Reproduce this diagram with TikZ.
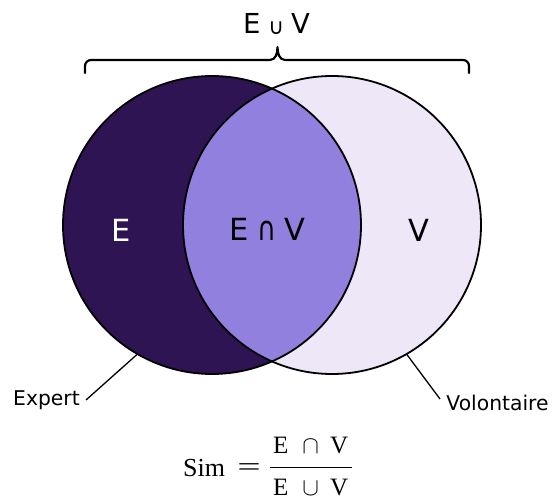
\documentclass[tikz,border=0pt]{standalone}
\usepackage{fontspec}
\usepackage{graphicx}
\newfontfamily\dvsans{DejaVu Sans}
\newfontfamily\libserif{Liberation Serif}
\definecolor{darkpurple}{RGB}{47,20,84}
\definecolor{midpurple}{RGB}{146,128,222}
\definecolor{lightpurple}{RGB}{237,231,248}
\newcommand{\mycap}{\scalebox{0.85}[1.1]{∩}}
\newcommand{\mycup}{\raisebox{-1.5pt}{\scalebox{0.78}[0.8]{∪}}}
\tikzset{
  setline/.style={line width=1.8pt, draw=black},
  bigtext/.style={font=\dvsans\fontsize{30.5pt}{32pt}\selectfont, inner sep=0pt, anchor=base},
  toptext/.style={font=\dvsans\fontsize{27.5pt}{30pt}\selectfont, inner sep=0pt, anchor=base},
  smalltext/.style={font=\dvsans\fontsize{20.3pt}{22pt}\selectfont, inner sep=0pt, anchor=base},
  formtext/.style={font=\libserif\fontsize{26pt}{28pt}\selectfont, inner sep=0pt, anchor=base west},
  fractext/.style={font=\libserif\fontsize{25pt}{27pt}\selectfont, inner sep=0pt, anchor=base west},
  leader/.style={line width=1.3pt, draw=black},
  bracestyle/.style={line width=2.2pt, draw=black, line cap=round, line join=round},
  setnode/.style={circle, minimum size=298pt, inner sep=0pt, outer sep=0pt}
}
\begin{document}
\begin{tikzpicture}[x=1pt,y=1pt]
\useasboundingbox (0,0) rectangle (553,501);
% set circles (named)
\node[setnode] (L) at (212,276) {};
\node[setnode] (R) at (332,276) {};
\fill[darkpurple] (L.center) circle (149);
\fill[lightpurple] (R.center) circle (149);
\begin{scope}
  \clip (L.center) circle (149);
  \fill[midpurple] (R.center) circle (149);
\end{scope}
\draw[setline] (L.center) circle (149);
\draw[setline] (R.center) circle (149);
% labels inside
\node[bigtext, text=white] (Elab) at (121.5,260) {E};
\node[bigtext] (EVlab) at (267.5,261) {E\hspace{8pt}\mycap\hspace{8pt}V};
\node[bigtext] (Vlab) at (419,260) {V};
% brace and union label
\coordinate (bl) at (85,428);
\coordinate (br) at (469,428);
\coordinate (tip) at (277.5,454);
\draw[bracestyle] (bl) -- (85,435) to[out=90,in=180] (91,441) -- (270,441)
   to[out=0,in=-90] (tip) to[out=-90,in=180] (285,441) -- (463,441)
   to[out=0,in=90] (469,435) -- (br);
\node[toptext] (union) at (276.5,467.5) {E\hspace{8pt}\mycup\hspace{7pt}V};
% outside labels with leaders
\node[smalltext] (expert) at (46.5,96) {Expert};
\node[smalltext] (vol) at (497.5,91) {Volontaire};
\coordinate (expend) at (86,101);
\coordinate (volend) at (440,102);
\draw[leader] (expend) -- (L.240);
\draw[leader] (volend) -- (R.300);
% formula
\node[formtext] (sim) at (183,24.3) {Sim};
\node[formtext, anchor=base] (eq) at (249,24.3) {\raisebox{1pt}{\scalebox{1.6}[1]{=}}};
\node[fractext] (num) at (273,47.7) {E\hspace{14pt}$\cap$\hspace{11pt}V};
\node[fractext] (den) at (273,6) {E\hspace{14pt}$\cup$\hspace{11pt}V};
\coordinate (barl) at (270,33.7);
\coordinate (barr) at (352,33.7);
\draw[line width=1.5pt] (barl) -- (barr);
\end{tikzpicture}
\end{document}
